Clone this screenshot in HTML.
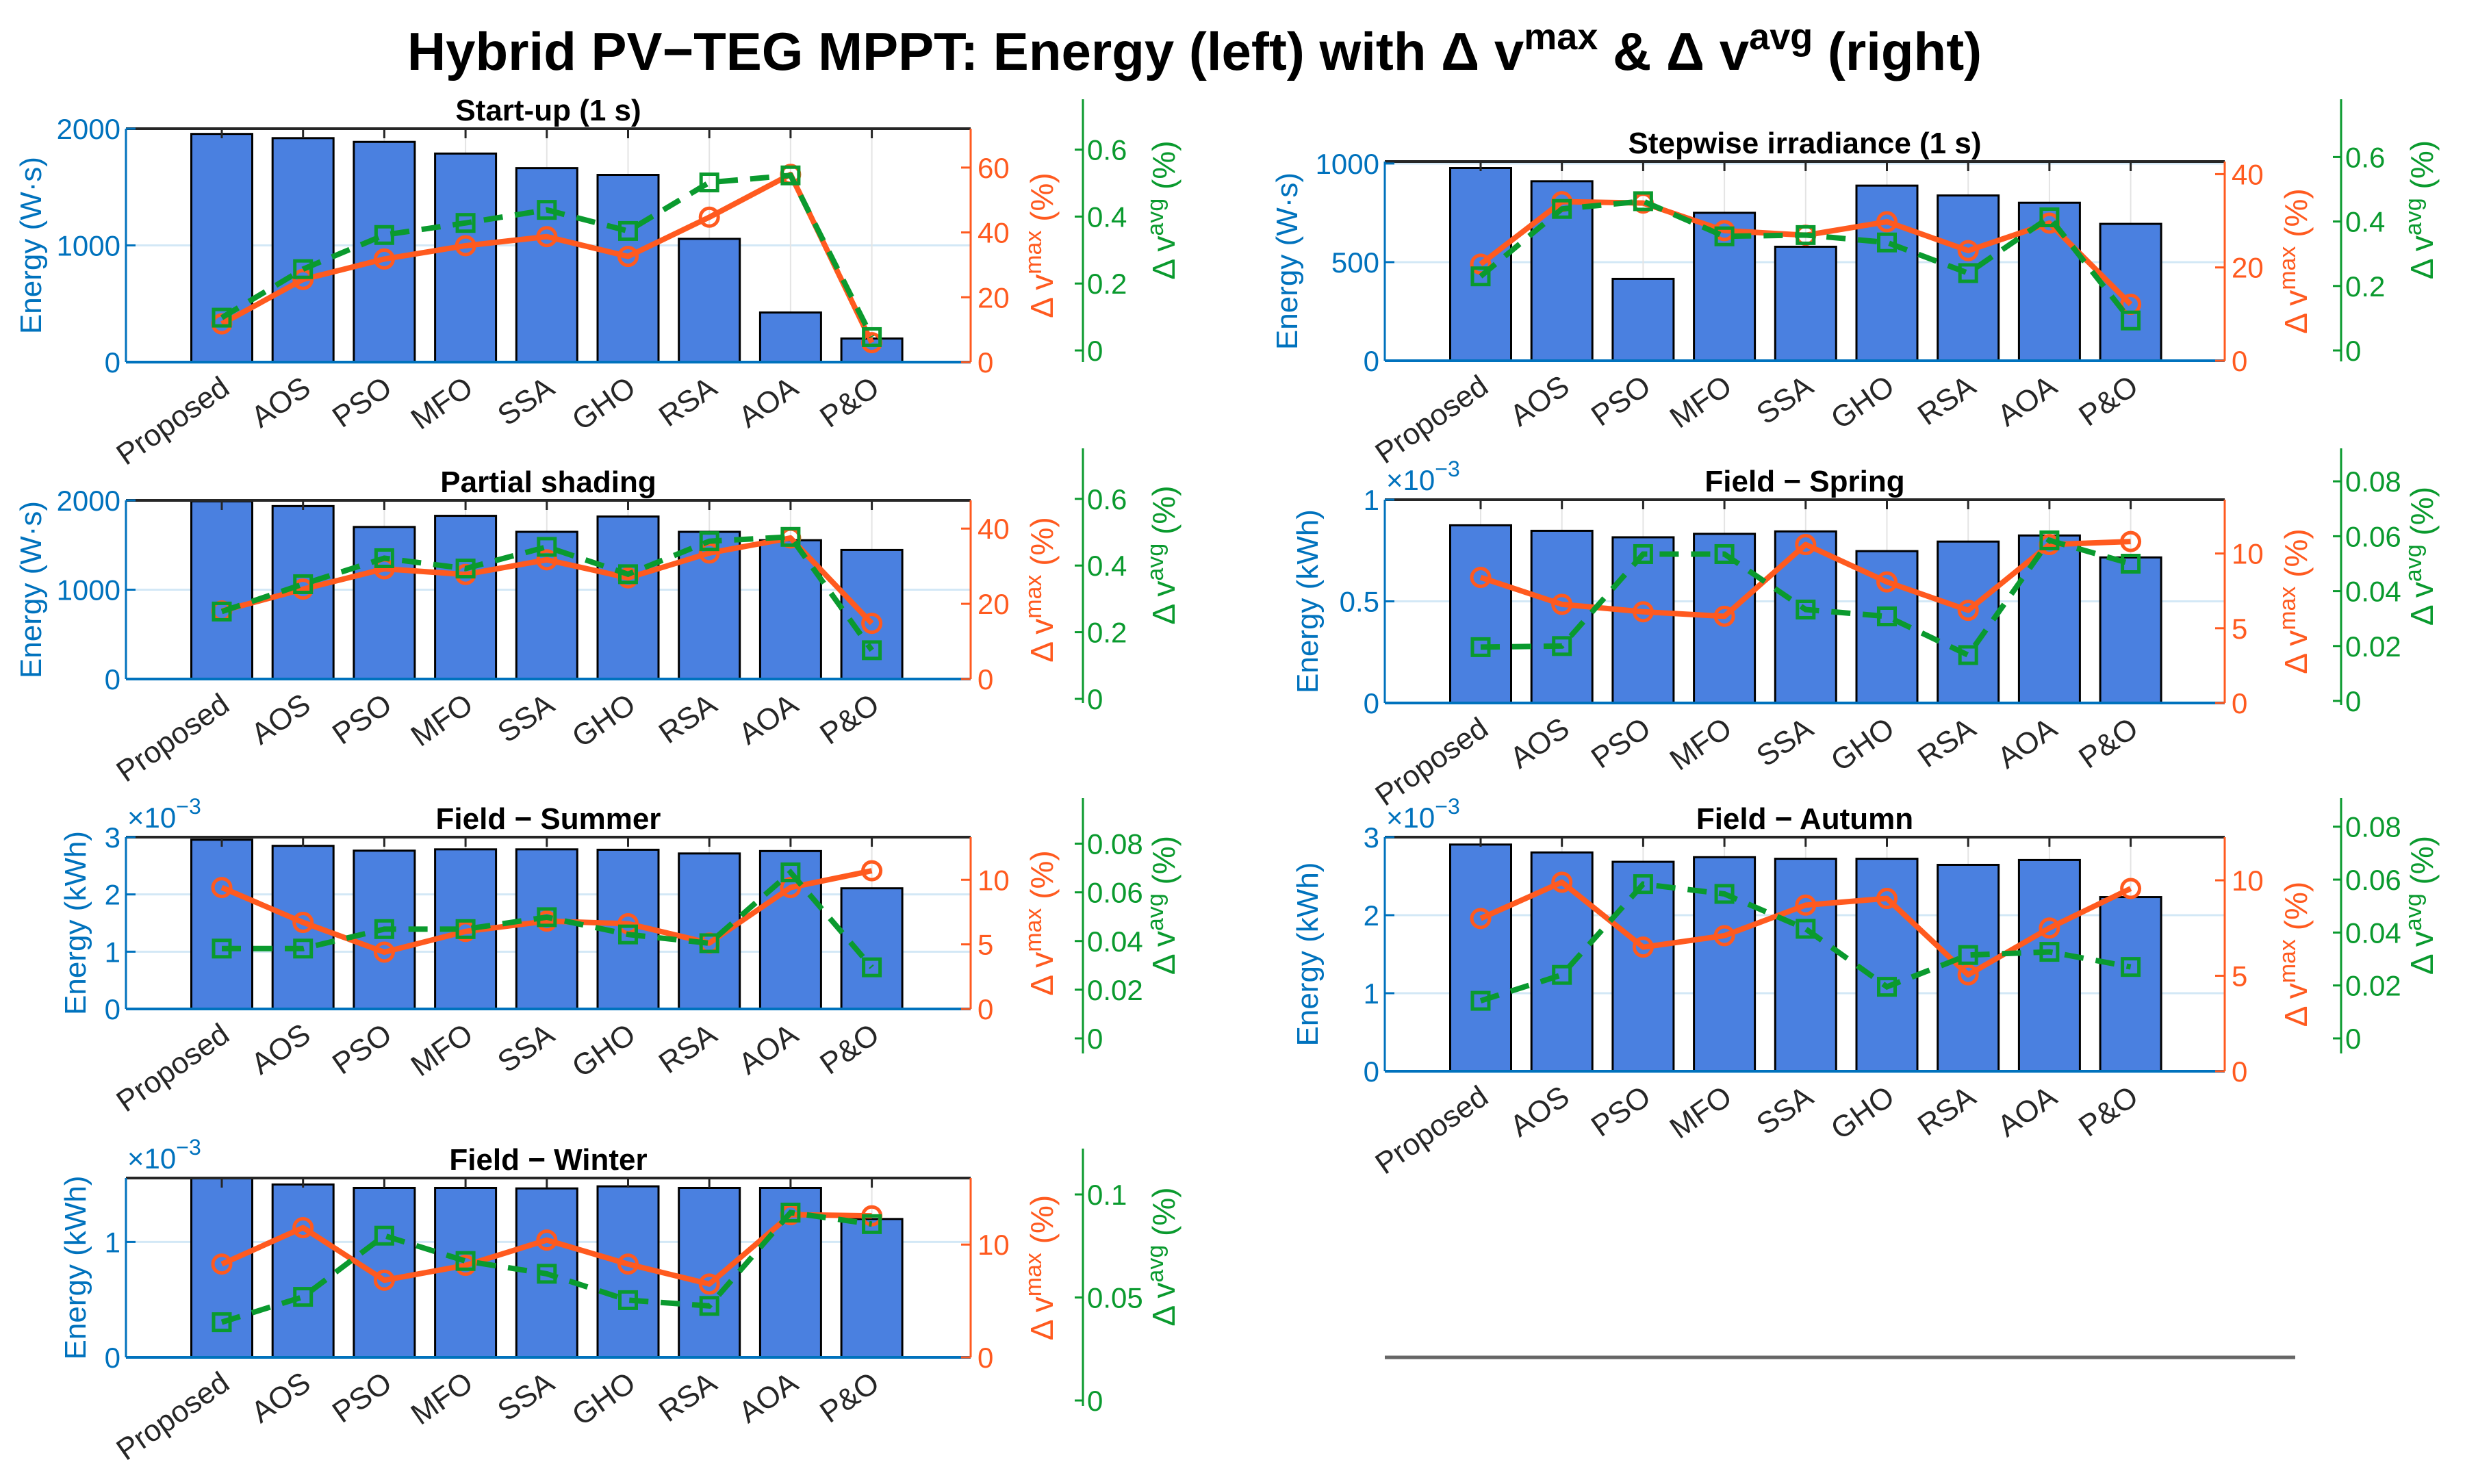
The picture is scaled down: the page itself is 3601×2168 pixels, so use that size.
<!DOCTYPE html>
<html><head><meta charset="utf-8"><title>Hybrid PV-TEG MPPT</title>
<style>
html,body{margin:0;padding:0;background:#fff;}
svg{display:block;font-family:"Liberation Sans",Arial,sans-serif;}
</style></head>
<body>
<svg id="fig" xmlns="http://www.w3.org/2000/svg" width="3601" height="2168" viewBox="0 0 3601 2168">
<rect x="0" y="0" width="3601" height="2168" fill="#fff"/>
<text x="1745" y="102" text-anchor="middle" font-size="78" font-weight="bold" fill="#000">Hybrid PV−TEG MPPT: Energy (left) with Δ v<tspan dy="-30" font-size="54">max</tspan><tspan dy="30"> &amp; Δ v</tspan><tspan dy="-30" font-size="54">avg</tspan><tspan dy="30"> (right)</tspan></text>
<line x1="2023" y1="1983" x2="3353" y2="1983" stroke="#666" stroke-width="5"/>
</svg>
<script>
const categories = ["Proposed","AOS","PSO","MFO","SSA","GHO","RSA","AOA","P&O"];

const energyStartup = [1955,1919,1887,1787,1662,1604,1056,425,202];
const dvmaxStartup  = [11.8,25.5,31.8,35.9,38.7,32.6,44.7,57.9,6.0];
const dvavgStartup  = [0.098,0.243,0.345,0.381,0.42,0.357,0.502,0.523,0.04];

const energyPartial = [1990,1936,1702,1827,1648,1819,1648,1554,1445];
const dvmaxPartial  = [18.1,23.9,29.3,27.8,31.7,26.9,33.5,37.5,14.8];
const dvavgPartial  = [0.262,0.344,0.422,0.391,0.456,0.374,0.473,0.486,0.146];

const energySummer = [2.955,2.848,2.764,2.787,2.787,2.78,2.715,2.757,2.107];
const dvmaxSummer  = [9.4,6.7,4.4,6.0,6.8,6.6,5.1,9.4,10.7];
const dvavgSummer  = [0.0369,0.0369,0.0449,0.0449,0.0498,0.0427,0.0391,0.0682,0.0292];

const energyWinter = [1.6,1.498,1.468,1.468,1.464,1.482,1.468,1.468,1.199];
const dvmaxWinter  = [8.27,11.5,6.84,8.16,10.4,8.27,6.5,12.65,12.55];
const dvavgWinter  = [0.038,0.0503,0.08,0.0677,0.0615,0.0487,0.0459,0.0912,0.0856];

const energyStep = [977,910,415,750,578,888,838,801,694];
const dvmaxStep  = [20.7,34.1,33.8,27.9,26.9,29.8,23.6,29.5,12.1];
const dvavgStep  = [0.23,0.439,0.463,0.354,0.358,0.335,0.24,0.413,0.093];

const energySpring = [0.874,0.847,0.815,0.832,0.844,0.747,0.794,0.824,0.716];
const dvmaxSpring  = [8.4,6.6,6.1,5.8,10.6,8.1,6.2,10.6,10.8];
const dvavgSpring  = [0.0196,0.020,0.0535,0.0535,0.0333,0.0308,0.0167,0.0585,0.050];

const energyAutumn = [2.905,2.804,2.684,2.743,2.723,2.723,2.645,2.707,2.232];
const dvmaxAutumn  = [8.0,9.9,6.5,7.1,8.7,9.05,5.05,7.5,9.57];
const dvavgAutumn  = [0.0142,0.024,0.0583,0.0546,0.0414,0.0195,0.0315,0.0327,0.027];

const ticksEnergyWs2000 = [0,1000,2000];
const ticksEnergyWs1000 = [0,500,1000];
const ticksKwh3 = [0,1,2,3];
const ticksKwh1 = [0,1];
const ticksKwhHalf = [0,0.5,1];
const ticksMax60 = [0,20,40,60];
const ticksMax40 = [0,20,40];
const ticksMax10 = [0,5,10];
const ticksMax10b = [0,10];
const ticksAvg06 = [0,0.2,0.4,0.6];
const ticksAvg008 = [0,0.02,0.04,0.06,0.08];
const ticksAvg01 = [0,0.05,0.1];

const NS = "http://www.w3.org/2000/svg";
const svg = document.getElementById("fig");
const BLUE="#0072BD", ORANGE="#FF5A1F", GREEN="#0A9A2E", BAR="#4A80E0";

function mk(tag, attrs, parent, text){
  const e=document.createElementNS(NS,tag);
  for(const k in attrs) e.setAttribute(k,attrs[k]);
  if(text!==undefined) e.textContent=text;
  (parent||svg).appendChild(e);
  return e;
}
function fmt(v){ return String(+v.toFixed(4)); }

function drawPanel(p){
  const g=mk("g",{});
  
  
  const {x0,x1,y0,y1}=p;
  const ey=v=>y1-Math.min(v,p.eTop)/p.eTop*(y1-y0);
  const oy=v=>y1-v/p.oTop*(y1-y0);
  const gy=v=>p.g0-v*p.gppu;
  const cx=i=>x0+140+i*118.7;

  p.eTicks.forEach(t=>{ if(t>0 && t<p.eTop) mk("line",{x1:x0,x2:x1,y1:ey(t),y2:ey(t),stroke:"#d3e8f6","stroke-width":3},g); });
  categories.forEach((c,i)=>{ mk("line",{x1:cx(i),x2:cx(i),y1:y0,y2:y1,stroke:"#e4e4e4","stroke-width":2},g); });
  p.energy.forEach((v,i)=>{
    const r=mk("rect",{x:cx(i)-44.5,y:ey(v),width:89,height:y1-ey(v),fill:BAR,stroke:"#000","stroke-width":3},g);
    
    
  });
  mk("line",{x1:x0,x2:x1,y1:y0,y2:y0,stroke:"#262626","stroke-width":4},g);
  mk("line",{x1:x0,x2:x0,y1:y0,y2:y1,stroke:BLUE,"stroke-width":3},g);
  mk("line",{x1:x0,x2:x1,y1:y1,y2:y1,stroke:BLUE,"stroke-width":4},g);
  mk("line",{x1:x1,x2:x1,y1:y0,y2:y1,stroke:ORANGE,"stroke-width":3},g);
  categories.forEach((c,i)=>{ mk("line",{x1:cx(i),x2:cx(i),y1:y0,y2:y0+14,stroke:"#262626","stroke-width":3},g); });
  p.eTicks.forEach(t=>{
    mk("line",{x1:x0,x2:x0+14,y1:ey(t),y2:ey(t),stroke:BLUE,"stroke-width":3},g);
    mk("text",{x:x0-8,y:ey(t)+15,"text-anchor":"end","font-size":42,fill:BLUE},g,fmt(t));
  });
  if(p.exp){
    const t=mk("text",{x:x0+2,y:y0-14,"font-size":42,fill:BLUE},g,"×10");
    mk("tspan",{dy:-20,"font-size":32},t,"−3");
  }
  const lx=p.lblX, ly=(y0+y1)/2;
  const ll=mk("text",{x:lx,y:ly,transform:`rotate(-90 ${lx} ${ly})`,"text-anchor":"middle","font-size":44,fill:BLUE},g,p.eLabel);
  
  
  p.oTicks.forEach(t=>{
    mk("line",{x1:x1-14,x2:x1,y1:oy(t),y2:oy(t),stroke:ORANGE,"stroke-width":3},g);
    mk("text",{x:x1+10,y:oy(t)+15,"font-size":42,fill:ORANGE},g,fmt(t));
  });
  const olx=x1+120, oly=(y0+y1)/2;
  const ol=mk("text",{x:olx,y:oly,transform:`rotate(-90 ${olx} ${oly})`,"text-anchor":"middle","font-size":46,fill:ORANGE},g,"Δ v");
  mk("tspan",{dy:-17,"font-size":34},ol,"max");
  mk("tspan",{dy:17},ol," (%)");
  
  
  const gx=p.gx;
  mk("line",{x1:gx,x2:gx,y1:p.gTopPx,y2:p.gBotPx,stroke:GREEN,"stroke-width":3},g);
  p.gTicks.forEach(t=>{
    mk("line",{x1:gx-12,x2:gx,y1:gy(t),y2:gy(t),stroke:GREEN,"stroke-width":3},g);
    mk("text",{x:gx+6,y:gy(t)+15,"font-size":42,fill:GREEN},g,fmt(t));
  });
  const glx=gx+134, gly=(p.gTopPx+p.gBotPx)/2-30;
  const gl=mk("text",{x:glx,y:gly,transform:`rotate(-90 ${glx} ${gly})`,"text-anchor":"middle","font-size":46,fill:GREEN},g,"Δ v");
  mk("tspan",{dy:-17,"font-size":34},gl,"avg");
  mk("tspan",{dy:17},gl," (%)");
  
  
  categories.forEach((c,i)=>{
    const tx=cx(i)+14, ty=y1+44;
    const t=mk("text",{x:tx,y:ty,transform:`rotate(-35 ${tx} ${ty})`,"text-anchor":"end","font-size":44,fill:"#262626"},g,c);
    
    
  });
  const tt=mk("text",{x:(x0+x1)/2,y:y0-12,"text-anchor":"middle","font-size":44,"font-weight":"bold",fill:"#000"},g,p.title);
  
  
  const op=p.dvmax.map((v,i)=>cx(i)+","+oy(v)).join(" ");
  const oLine=mk("polyline",{points:op,fill:"none",stroke:ORANGE,"stroke-width":8,"stroke-linejoin":"round"},g);
  
  
  p.dvmax.forEach((v,i)=>{
    const c=mk("circle",{cx:cx(i),cy:oy(v),r:13,fill:"none",stroke:ORANGE,"stroke-width":5},g);
    
    
  });
  const gp=p.dvavg.map((v,i)=>cx(i)+","+gy(v)).join(" ");
  const gLine=mk("polyline",{points:gp,fill:"none",stroke:GREEN,"stroke-width":8,"stroke-dasharray":"28 18"},g);
  
  
  p.dvavg.forEach((v,i)=>{
    const s=mk("rect",{x:cx(i)-12,y:gy(v)-12,width:24,height:24,fill:"none",stroke:GREEN,"stroke-width":5},g);
    
    
  });
}

const L={x0:184,x1:1418,gx:1582}, R={x0:2023,x1:3250,gx:3420};
const panels=[
 {name:"startup",title:"Start-up (1 s)",...L,y0:188,y1:529,eTop:2000,eTicks:ticksEnergyWs2000,eLabel:"Energy (W·s)",lblX:60,exp:false,
  oTop:72,oTicks:ticksMax60,g0:512,gppu:489,gTopPx:145,gBotPx:529,gTicks:ticksAvg06,
  energy:energyStartup,dvmax:dvmaxStartup,dvavg:dvavgStartup},
 {name:"partial-shading",title:"Partial shading",...L,y0:731,y1:992,eTop:2000,eTicks:ticksEnergyWs2000,eLabel:"Energy (W·s)",lblX:60,exp:false,
  oTop:47.5,oTicks:ticksMax40,g0:1021,gppu:487,gTopPx:655,gBotPx:1027,gTicks:ticksAvg06,
  energy:energyPartial,dvmax:dvmaxPartial,dvavg:dvavgPartial},
 {name:"summer",title:"Field − Summer",...L,y0:1223,y1:1474,eTop:3,eTicks:ticksKwh3,eLabel:"Energy (kWh)",lblX:125,exp:true,
  oTop:13.3,oTicks:ticksMax10,g0:1517,gppu:3556,gTopPx:1166,gBotPx:1539,gTicks:ticksAvg008,
  energy:energySummer,dvmax:dvmaxSummer,dvavg:dvavgSummer},
 {name:"winter",title:"Field − Winter",...L,y0:1721,y1:1983,eTop:1.554,eTicks:ticksKwh1,eLabel:"Energy (kWh)",lblX:125,exp:true,
  oTop:15.9,oTicks:ticksMax10b,g0:2046,gppu:3010,gTopPx:1678,gBotPx:2054,gTicks:ticksAvg01,
  energy:energyWinter,dvmax:dvmaxWinter,dvavg:dvavgWinter},
 {name:"stepwise",title:"Stepwise irradiance (1 s)",...R,y0:236,y1:527,eTop:1010,eTicks:ticksEnergyWs1000,eLabel:"Energy (W·s)",lblX:1895,exp:false,
  oTop:42.7,oTicks:ticksMax40,g0:512,gppu:471,gTopPx:145,gBotPx:528,gTicks:ticksAvg06,
  energy:energyStep,dvmax:dvmaxStep,dvavg:dvavgStep},
 {name:"spring",title:"Field − Spring",...R,y0:730,y1:1027,eTop:1,eTicks:ticksKwhHalf,eLabel:"Energy (kWh)",lblX:1925,exp:true,
  oTop:13.6,oTicks:ticksMax10,g0:1024,gppu:4010,gTopPx:655,gBotPx:1030,gTicks:ticksAvg008,
  energy:energySpring,dvmax:dvmaxSpring,dvavg:dvavgSpring},
 {name:"autumn",title:"Field − Autumn",...R,y0:1223,y1:1565,eTop:3,eTicks:ticksKwh3,eLabel:"Energy (kWh)",lblX:1925,exp:true,
  oTop:12.26,oTicks:ticksMax10,g0:1517,gppu:3866,gTopPx:1166,gBotPx:1539,gTicks:ticksAvg008,
  energy:energyAutumn,dvmax:dvmaxAutumn,dvavg:dvavgAutumn}
];
panels.forEach(drawPanel);
</script>
</body></html>
